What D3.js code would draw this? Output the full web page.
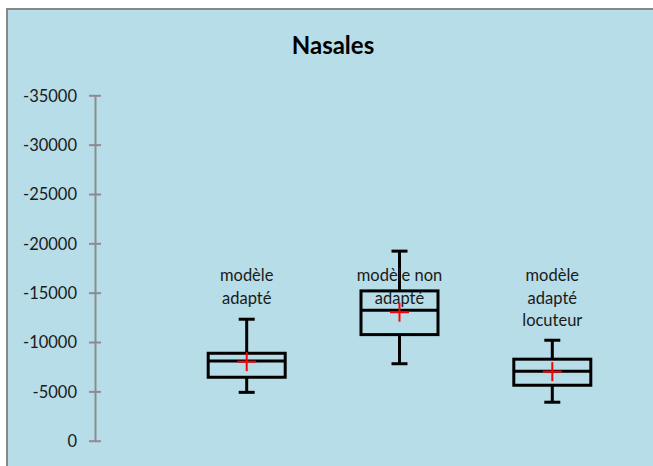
<!DOCTYPE html>
<html>
<head>
<meta charset="utf-8">
<script src="https://cdn.jsdelivr.net/npm/d3@7"></script>
<style>
	body { margin: 0; background: #fff; }
	text { font-family: Lato, "Open Sans", sans-serif; }
</style>
</head>
<body>
<div id="root"></div>
<script>

// categories and their label lines
const categories = ["modèle adapté", "modèle non adapté", "modèle adapté locuteur"];
const labelLines = [["modèle", "adapté"], ["modèle non", "adapté"], ["modèle", "adapté", "locuteur"]];

// box plot values (negative, as on the axis)
const whiskerLow  = [-4900, -7800, -3900];
const q1          = [-6430, -10750, -5620];
const median      = [-8080, -13220, -7040];
const q3          = [-8860, -15180, -8260];
const whiskerHigh = [-12310, -19210, -10180];
const mean        = [-8010, -13020, -7000];

const yTicks = [0, -5000, -10000, -15000, -20000, -25000, -30000, -35000];

const width = 653, height = 466;

const makeChart = () => {

	const svg = d3.select("#root")
		.append("svg")
			.attr("width", width)
			.attr("height", height);

	// chart area
	svg.append("rect")
		.attr("x", 7)
		.attr("y", 9)
		.attr("width", width + 10)
		.attr("height", height + 10)
		.attr("fill", "#b7dde8")
		.attr("stroke", "#878787")
		.attr("stroke-width", 2);

	svg.append("text")
		.attr("x", 333)
		.attr("y", 54)
		.attr("text-anchor", "middle")
		.attr("font-size", 24)
		.attr("font-weight", "bold")
		.attr("fill", "#000")
		.text("Nasales");

	const y = d3.scaleLinear().domain([0, -35000]).range([440.7, 95.3]);
	const x = d3.scalePoint().domain(categories).range([246.7, 552.3]);

	// y axis
	const axis = svg.append("g")
		.attr("transform", "translate(95,0)")
		.call(d3.axisLeft(y)
			.tickValues(yTicks)
			.tickSize(0)
			.tickPadding(18)
			.tickFormat(d => String(d)));

	axis.select(".domain").attr("stroke", "#8c8c8c").attr("stroke-width", 2);
	axis.selectAll(".tick line").remove();
	axis.selectAll(".tick")
		.append("line")
			.attr("x1", -6)
			.attr("x2", 6)
			.attr("stroke", "#8c8c8c")
			.attr("stroke-width", 2);
	axis.selectAll(".tick text")
		.attr("font-size", 16.5)
		.attr("font-family", "Lato, sans-serif")
		.attr("fill", "#1a1a1a")
		.attr("dy", "0.36em");

	const data = categories.map((c, i) => ({
		cat: c, lines: labelLines[i],
		lo: whiskerLow[i], q1: q1[i], med: median[i], q3: q3[i], hi: whiskerHigh[i], mean: mean[i]
	}));

	const boxW = 77, capW = 16, cross = 9.5;

	const groups = svg.selectAll(".box")
		.data(data)
		.enter()
		.append("g")
			.attr("class", "box")
			.attr("transform", d => `translate(${x(d.cat)},0)`);

	// whiskers
	groups.append("line")
		.attr("y1", d => y(d.hi)).attr("y2", d => y(d.q3))
		.attr("stroke", "#000").attr("stroke-width", 3);
	groups.append("line")
		.attr("y1", d => y(d.q1)).attr("y2", d => y(d.lo))
		.attr("stroke", "#000").attr("stroke-width", 3);
	groups.append("line")
		.attr("x1", -capW / 2).attr("x2", capW / 2)
		.attr("y1", d => y(d.hi)).attr("y2", d => y(d.hi))
		.attr("stroke", "#000").attr("stroke-width", 3);
	groups.append("line")
		.attr("x1", -capW / 2).attr("x2", capW / 2)
		.attr("y1", d => y(d.lo)).attr("y2", d => y(d.lo))
		.attr("stroke", "#000").attr("stroke-width", 3);

	// box
	groups.append("rect")
		.attr("x", -boxW / 2)
		.attr("width", boxW)
		.attr("y", d => y(d.q3))
		.attr("height", d => y(d.q1) - y(d.q3))
		.attr("fill", "none")
		.attr("stroke", "#000")
		.attr("stroke-width", 3);
	groups.append("line")
		.attr("x1", -boxW / 2).attr("x2", boxW / 2)
		.attr("y1", d => y(d.med)).attr("y2", d => y(d.med))
		.attr("stroke", "#000").attr("stroke-width", 3);

	// labels
	groups.each(function(d) {
		const g = d3.select(this);
		d.lines.forEach((t, k) => {
			g.append("text")
				.attr("x", 0)
				.attr("y", 281 + k * 22.6)
				.attr("text-anchor", "middle")
				.attr("font-size", 16.5)
				.attr("fill", "#1a1a1a")
				.text(t);
		});
	});

	// mean cross
	groups.append("line")
		.attr("x1", -cross).attr("x2", cross)
		.attr("y1", d => y(d.mean)).attr("y2", d => y(d.mean))
		.attr("stroke", "#ff0000").attr("stroke-width", 2);
	groups.append("line")
		.attr("y1", d => y(d.mean) - cross).attr("y2", d => y(d.mean) + cross)
		.attr("stroke", "#ff0000").attr("stroke-width", 2);
};

makeChart();
</script>
</body>
</html>
